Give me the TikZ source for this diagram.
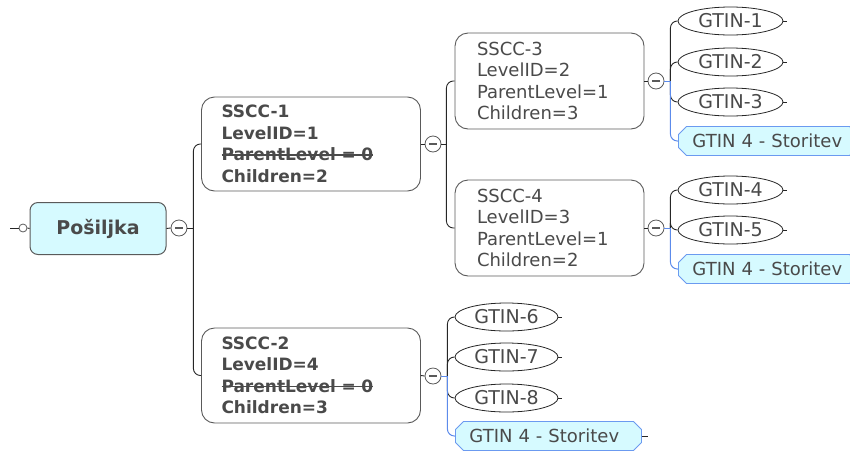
\documentclass[tikz,border=0pt]{standalone}
\usepackage{fontspec}
\setmainfont{DejaVu Sans}
\usetikzlibrary{shapes.geometric,shapes.misc}
\definecolor{txt}{HTML}{4A4A4A}
\definecolor{bordergray}{HTML}{5A5A5A}
\definecolor{boxfill}{HTML}{D6FAFF}
\definecolor{blueline}{HTML}{6B9AF0}
\definecolor{connblue}{HTML}{5C8BEB}
\newsavebox{\mystrikebox}
\newcommand{\mystrike}[1]{\mbox{\sbox{\mystrikebox}{#1}\rlap{\rule[0.31em]{\wd\mystrikebox}{1.4pt}}\usebox{\mystrikebox}}}
\tikzset{
  rootbox/.style={draw=bordergray, line width=1pt, rounded corners=8pt, fill=boxfill,
    minimum width=136pt, minimum height=52pt, inner sep=0pt, text=txt,
    font=\fontsize{19}{22}\selectfont\bfseries},
  ssccbox/.style={draw=bordergray, line width=0.9pt, rounded corners=13pt, fill=white,
    align=left, text=txt, inner ysep=0pt},
  boldtext/.style={font=\fontsize{17}{21.5}\selectfont\bfseries},
  normtext/.style={font=\fontsize{18}{21.5}\selectfont},
  ctrl/.style={circle, draw=bordergray, fill=white, minimum size=16pt, inner sep=0pt,
    line width=0.8pt,
    path picture={\draw[line width=1.2pt, bordergray]
      ([xshift=-4pt]path picture bounding box.center) --
      ([xshift=4pt]path picture bounding box.center);}},
  gtin/.style={ellipse, draw=black!85, fill=white, line width=0.8pt,
    minimum width=105pt, minimum height=28pt, inner sep=0pt, text=txt,
    font=\fontsize{19}{20}\selectfont},
  store/.style={chamfered rectangle, chamfered rectangle xsep=4pt, chamfered rectangle ysep=4pt,
    draw=blueline, fill=boxfill, line width=0.9pt, minimum height=29pt,
    inner xsep=10pt, inner ysep=0pt, anchor=west, align=left, text=txt,
    font=\fontsize{18}{20}\selectfont},
  conn/.style={draw=black!85, line width=0.9pt},
  bconn/.style={draw=connblue, line width=1pt},
  rc/.style={rounded corners=7pt},
  tick/.style={draw=black!85, line width=0.8pt}
}
\begin{document}
\begin{tikzpicture}[x=1pt,y=-1pt]
\useasboundingbox (0,0) rectangle (850,453);

% root
\node[rootbox] (root) at (98,228.5) {Pošiljka};
\node[circle, draw=bordergray, fill=white, minimum size=8pt, inner sep=0pt, line width=0.8pt] (lc) at (23,228) {};
\coordinate (lend) at (10,228);
\draw[conn] (lend) -- (lc.west);
\draw[conn] (lc.east) -- (root.west);
\node[ctrl] (c0) at (179,228) {};
\draw[conn] (root.east) -- (c0.west);

% level 1
\node[ssccbox, boldtext, text width=179pt, inner xsep=20pt, minimum height=94pt] (s1) at (311,144)
  {SSCC-1\\LevelID=1\\\mystrike{ParentLevel = 0}\\Children=2};
\node[ssccbox, boldtext, text width=179pt, inner xsep=20pt, minimum height=95pt] (s2) at (311,375.5)
  {SSCC-2\\LevelID=4\\\mystrike{ParentLevel = 0}\\Children=3};

\draw[conn] (c0.east) -- ++(6,0) coordinate (j0);
\draw[conn, rc] (j0) |- (s1.west);
\draw[conn, rc] (j0) |- (s2.west);

\node[ctrl] (c1) at (433,144) {};
\draw[conn] (s1.east) -- (c1.west);
\node[ctrl] (c2) at (433,376) {};
\draw[conn] (s2.east) -- (c2.west);

% level 2
\node[ssccbox, normtext, text width=145pt, inner xsep=22pt, minimum height=96pt] (s3) at (549.5,81)
  {SSCC-3\\LevelID=2\\ParentLevel=1\\Children=3};
\node[ssccbox, normtext, text width=145pt, inner xsep=22pt, minimum height=96pt] (s4) at (549.5,228)
  {SSCC-4\\LevelID=3\\ParentLevel=1\\Children=2};

\draw[conn] (c1.east) -- ++(5,0) coordinate (j1);
\draw[conn, rc] (j1) |- (s3.west);
\draw[conn, rc] (j1) |- (s4.west);

\node[ctrl] (c3) at (656,81) {};
\draw[conn] (s3.east) -- (c3.west);
\node[ctrl] (c4) at (656,228) {};
\draw[conn] (s4.east) -- (c4.west);

% group 1
\node[gtin] (g1) at (730.5,21) {GTIN-1};
\node[gtin] (g2) at (730.5,62) {GTIN-2};
\node[gtin] (g3) at (730.5,102) {GTIN-3};
\node[store, text width=151pt] (t1) at (678,141) {GTIN 4 - Storitev};
\path (c3.east) -- ++(6,0) coordinate (j3);
\draw[conn, rc] (j3) |- (g1.west);
\draw[conn, rc] (j3) |- (g2.west);
\draw[conn, rc] (j3) |- (g3.west);
\draw[bconn] (c3.east) -- (j3);
\draw[bconn, rc] (j3) |- (t1.west);
\draw[tick] (g1.east) -- ++(4,0);
\draw[tick] (g2.east) -- ++(4,0);
\draw[tick] (g3.east) -- ++(4,0);

% group 2
\node[gtin] (g4) at (730.5,190) {GTIN-4};
\node[gtin] (g5) at (730.5,230) {GTIN-5};
\node[store, text width=151pt] (t2) at (678,269) {GTIN 4 - Storitev};
\path (c4.east) -- ++(6,0) coordinate (j4);
\draw[conn, rc] (j4) |- (g4.west);
\draw[conn, rc] (j4) |- (g5.west);
\draw[bconn] (c4.east) -- (j4);
\draw[bconn, rc] (j4) |- (t2.west);
\draw[tick] (g4.east) -- ++(4,0);
\draw[tick] (g5.east) -- ++(4,0);

% group 3
\node[gtin, minimum width=103pt] (g6) at (506.5,317) {GTIN-6};
\node[gtin, minimum width=103pt] (g7) at (506.5,357) {GTIN-7};
\node[gtin, minimum width=103pt] (g8) at (506.5,398) {GTIN-8};
\node[store, text width=158pt] (t3) at (455,436) {GTIN 4 - Storitev};
\path (c2.east) -- ++(6,0) coordinate (j2);
\draw[conn, rc] (j2) |- (g6.west);
\draw[conn, rc] (j2) |- (g7.west);
\draw[conn, rc] (j2) |- (g8.west);
\draw[bconn] (c2.east) -- (j2);
\draw[bconn, rc] (j2) |- (t3.west);
\draw[tick] (g6.east) -- ++(4,0);
\draw[tick] (g7.east) -- ++(4,0);
\draw[tick] (g8.east) -- ++(4,0);
\draw[tick] (t3.east) -- ++(6,0);
\end{tikzpicture}
\end{document}
